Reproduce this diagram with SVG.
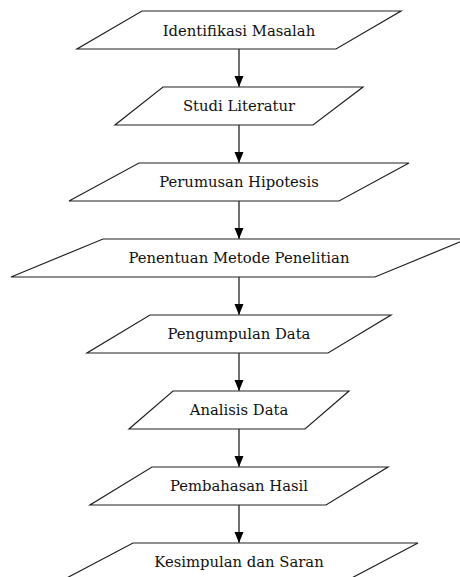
<svg xmlns="http://www.w3.org/2000/svg" width="460" height="577" viewBox="0 0 460 577">
<defs>
<style>
.n{fill:#fff;stroke:#222;stroke-width:1.2}
.t{font-family:"DejaVu Serif",serif;font-size:14.8px;fill:#111;text-anchor:middle;dominant-baseline:central}
.e{stroke:#111;stroke-width:1.2;fill:none}
</style>
<marker id="a" markerWidth="10" markerHeight="12" refX="11" refY="4.5" orient="auto" markerUnits="userSpaceOnUse">
<path d="M0,0 L11,4.5 L0,9 Z" fill="#000"/>
</marker>
</defs>
<rect width="460" height="577" fill="#fff"/>
<g id="edges">
<line class="e" x1="239" y1="49" x2="239" y2="87" marker-end="url(#a)"/>
<line class="e" x1="239" y1="125" x2="239" y2="163" marker-end="url(#a)"/>
<line class="e" x1="239" y1="201" x2="239" y2="239" marker-end="url(#a)"/>
<line class="e" x1="239" y1="277" x2="239" y2="315" marker-end="url(#a)"/>
<line class="e" x1="239" y1="353" x2="239" y2="391" marker-end="url(#a)"/>
<line class="e" x1="239" y1="429" x2="239" y2="467" marker-end="url(#a)"/>
<line class="e" x1="239" y1="505" x2="239" y2="543" marker-end="url(#a)"/>
</g>
<g id="n1"><polygon class="n" points="142,11 401,11 336,49 77,49"/><text class="t" x="239" y="30">Identifikasi Masalah</text></g>
<g id="n2"><polygon class="n" points="163,87 363,87 313,125 115,125"/><text class="t" x="239" y="105">Studi Literatur</text></g>
<g id="n3"><polygon class="n" points="139,163 409,163 339,201 69,201"/><text class="t" x="239" y="181">Perumusan Hipotesis</text></g>
<g id="n4"><polygon class="n" points="103,239 467,239 375,277 11,277"/><text class="t" x="239" y="257">Penentuan Metode Penelitian</text></g>
<g id="n5"><polygon class="n" points="150,315 391,315 328,353 87,353"/><text class="t" x="239" y="333">Pengumpulan Data</text></g>
<g id="n6"><polygon class="n" points="173,391 349,391 305,429 129,429"/><text class="t" x="239" y="409">Analisis Data</text></g>
<g id="n7"><polygon class="n" points="152,467 388,467 326,505 90,505"/><text class="t" x="239" y="485">Pembahasan Hasil</text></g>
<g id="n8"><polygon class="n" points="133,543 418,543 346,581 61,581"/><text class="t" x="239" y="561">Kesimpulan dan Saran</text></g>
</svg>
